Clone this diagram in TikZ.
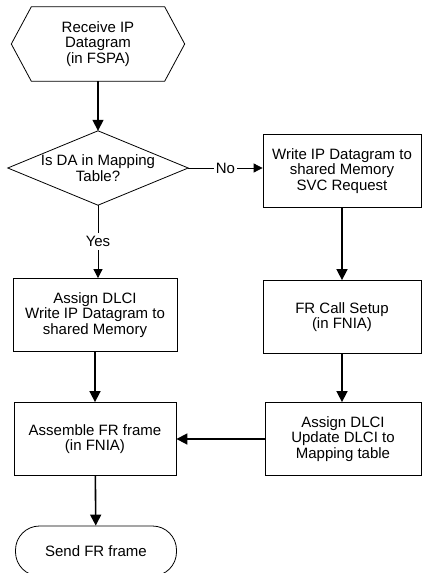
\documentclass[tikz,border=0pt]{standalone}
\usepackage{fontspec}
\setmainfont{Liberation Sans}
\usetikzlibrary{arrows.meta}

\begin{document}
\begin{tikzpicture}[x=1pt,y=-1pt,
		every node/.style={font=\fontsize{15}{15.5}\selectfont, align=center, inner sep=0pt},
		box/.style={draw, line width=0.8pt, minimum height=73pt},
		arr/.style={line width=1.6pt, -{Triangle[length=11pt,width=11pt]}},
		thinarr/.style={line width=0.8pt, -{Triangle[length=9pt,width=9pt]}}]
	\useasboundingbox (0,0) rectangle (422,573);
	% left column
	\node[minimum width=173pt, minimum height=74pt] (recv) at (98,44) {Receive IP\\Datagram\\(in FSPA)};
	\draw[line width=0.8pt] (recv.west) -- ([xshift=20pt]recv.north west) -- ([xshift=-20pt]recv.north east)
		-- (recv.east) -- ([xshift=-20pt]recv.south east) -- ([xshift=20pt]recv.south west) -- cycle;
	\node[minimum width=180pt, minimum height=74pt] (isda) at (98,168) {Is DA in Mapping\\Table?};
	\draw[line width=0.8pt] (isda.north) -- (isda.east) -- (isda.south) -- (isda.west) -- cycle;
	\node[box, minimum width=164pt] (assign) at (95,315) {Assign DLCI\\Write IP Datagram to\\shared Memory};
	\node[box, minimum width=162pt] (assemble) at (95,439) {Assemble FR frame\\(in FNIA)};
	\node[draw, line width=0.8pt, rounded corners=24pt, minimum width=161pt, minimum height=50pt] (send) at (96,551) {Send FR frame};
	% right column
	\node[box, minimum width=158pt] (svcreq) at (342,171) {Write IP Datagram to\\shared Memory\\SVC Request};
	\node[box, minimum width=158pt] (setup) at (342,317) {FR Call Setup\\(in FNIA)};
	\node[box, minimum width=156pt] (update) at (343,439) {Assign DLCI\\Update DLCI to\\Mapping table};
	% connectors
	\draw[arr] (recv) -- (isda);
	\draw[thinarr] (isda.south) -- node[fill=white, inner sep=3pt] {Yes} (isda.south |- assign.north);
	\draw[thinarr] (isda.east) -- node[fill=white, inner sep=2pt] {No} (isda.east -| svcreq.west);
	\draw[arr] (assign) -- (assemble);
	\draw[arr] (assemble) -- (send);
	\draw[arr] (svcreq) -- (setup);
	\draw[arr] (setup.south) -- (setup.south |- update.north);
	\draw[arr] (update) -- (assemble);
\end{tikzpicture}
\end{document}
